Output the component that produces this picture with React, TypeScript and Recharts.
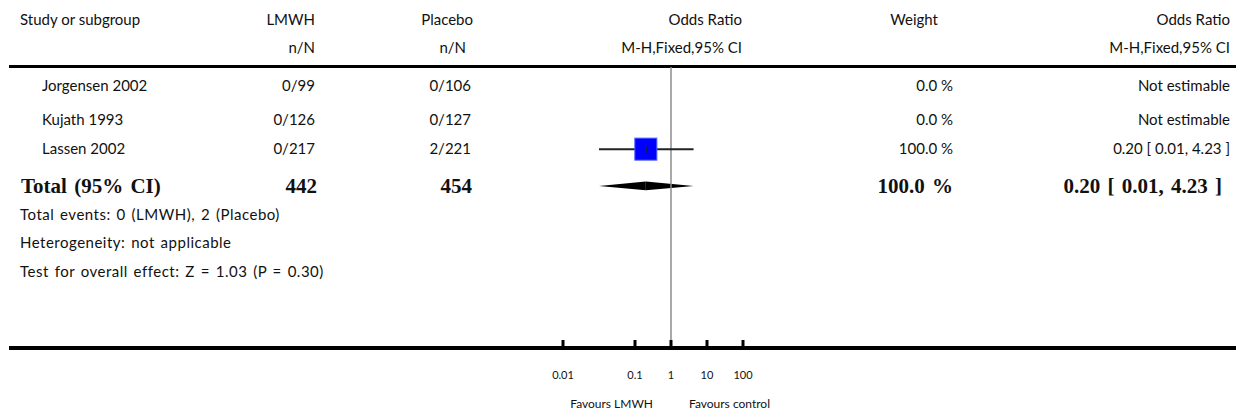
import React from "react"
import {
  ComposedChart,
  Scatter,
  XAxis,
  YAxis,
  ReferenceLine,
  ReferenceArea,
} from "recharts"

// Forest plot: LMWH vs placebo, odds ratio (M-H, fixed, 95% CI)

const studies = ["Jorgensen 2002", "Kujath 1993", "Lassen 2002"]
const lmwhEvents = ["0/99", "0/126", "0/217"]
const placeboEvents = ["0/106", "0/127", "2/221"]
const weights = [0, 0, 100]
const weightLabels = ["0.0 %", "0.0 %", "100.0 %"]
const oddsRatio: (number | null)[] = [null, null, 0.2]
const ciLow: (number | null)[] = [null, null, 0.01]
const ciHigh: (number | null)[] = [null, null, 4.23]
const orLabels = ["Not estimable", "Not estimable", "0.20 [ 0.01, 4.23 ]"]

const totalLabel = "Total (95% CI)"
const totalLmwh = "442"
const totalPlacebo = "454"
const totalWeight = "100.0 %"
const totalOr = 0.2
const totalLow = 0.01
const totalHigh = 4.23
const totalOrLabel = "0.20 [ 0.01, 4.23 ]"

const notes = [
  "Total events: 0 (LMWH), 2 (Placebo)",
  "Heterogeneity: not applicable",
  "Test for overall effect: Z = 1.03 (P = 0.30)",
]

const tickValues = [0.001, 0.1, 1, 10, 100]
const tickLabels = ["0.01", "0.1", "1", "10", "100"]
const favoursLeft = "Favours LMWH"
const favoursRight = "Favours control"

// layout (row slots on the y axis, column x positions in px)
const SLOT_HEAD1 = 0.6
const SLOT_HEAD2 = 1.45
const SLOT_RULE = 2.02
const SLOT_STUDY = [2.6, 3.62, 4.5]
const SLOT_TOTAL = 5.61
const SLOT_NOTES = [6.49, 7.33, 8.21]
const SLOT_END = 10.5

const SANS = "Lato, 'Open Sans', sans-serif"
const SERIF = "'Liberation Serif', 'DejaVu Serif', serif"

type Cell = { text: string; x: number; anchor: "start" | "end"; kind?: "bold" | "note" }

const rows: { slot: number; cells: Cell[] }[] = [
  {
    slot: SLOT_HEAD1,
    cells: [
      { text: "Study or subgroup", x: 20, anchor: "start" },
      { text: "LMWH", x: 315, anchor: "end" },
      { text: "Placebo", x: 473, anchor: "end" },
      { text: "Odds Ratio", x: 742, anchor: "end" },
      { text: "Weight", x: 938, anchor: "end" },
      { text: "Odds Ratio", x: 1230, anchor: "end" },
    ],
  },
  {
    slot: SLOT_HEAD2,
    cells: [
      { text: "n/N", x: 315, anchor: "end" },
      { text: "n/N", x: 466, anchor: "end" },
      { text: "M-H,Fixed,95% CI", x: 742, anchor: "end" },
      { text: "M-H,Fixed,95% CI", x: 1230, anchor: "end" },
    ],
  },
  ...studies.map((s, i) => ({
    slot: SLOT_STUDY[i],
    cells: [
      { text: s, x: 42, anchor: "start" as const },
      { text: lmwhEvents[i], x: 315, anchor: "end" as const },
      { text: placeboEvents[i], x: 471, anchor: "end" as const },
      { text: weightLabels[i], x: 953, anchor: "end" as const },
      { text: orLabels[i], x: 1230, anchor: "end" as const },
    ],
  })),
  {
    slot: SLOT_TOTAL,
    cells: [
      { text: totalLabel, x: 21, anchor: "start", kind: "bold" },
      { text: totalLmwh, x: 317, anchor: "end", kind: "bold" },
      { text: totalPlacebo, x: 472, anchor: "end", kind: "bold" },
      { text: totalWeight, x: 953, anchor: "end", kind: "bold" },
      { text: totalOrLabel, x: 1222, anchor: "end", kind: "bold" },
    ],
  },
  ...notes.map((n, i) => ({
    slot: SLOT_NOTES[i],
    cells: [{ text: n, x: 20, anchor: "start" as const, kind: "note" as const }],
  })),
]

const scatterData = studies
  .map((s, i) => ({ study: s, or: oddsRatio[i], row: SLOT_STUDY[i], weight: weights[i] }))
  .filter((d) => d.or != null)

const cellStyle = (kind?: string): React.CSSProperties => {
  if (kind === "bold") return { fontFamily: SERIF, fontSize: 21, fontWeight: 700, wordSpacing: 2 }
  if (kind === "note") return { fontFamily: SANS, fontSize: 15, letterSpacing: 0.5, wordSpacing: 1.5 }
  return { fontFamily: SANS, fontSize: 15 }
}

function RowTick(props: any) {
  const { y, payload } = props
  const row = rows.find((r) => r.slot === payload.value)
  if (!row) return null
  return (
    <g>
      {row.cells.map((c, k) => (
        <text key={k} x={c.x} y={y} dy="0.35em" textAnchor={c.anchor} fill="#111" style={cellStyle(c.kind)}>
          {c.text}
        </text>
      ))}
    </g>
  )
}

function AxisTick(props: any) {
  const { x, y, payload, index } = props
  return (
    <g>
      <line x1={x} x2={x} y1={y - 8} y2={y} stroke="#000" strokeWidth={3} />
      <text x={x} y={y + 31} textAnchor="middle" fill="#111" style={{ fontFamily: SANS, fontSize: 11 }}>
        {tickLabels[index]}
      </text>
      {payload.value === 1 && (
        <>
          <text x={x - 18} y={y + 60} textAnchor="end" fill="#111" style={{ fontFamily: SANS, fontSize: 12 }}>
            {favoursLeft}
          </text>
          <text x={x + 18} y={y + 60} textAnchor="start" fill="#111" style={{ fontFamily: SANS, fontSize: 12 }}>
            {favoursRight}
          </text>
        </>
      )}
    </g>
  )
}

function StudyBox(props: any) {
  const { cx, cy, payload } = props
  if (cx == null || cy == null) return null
  const s = 22 * Math.sqrt(payload.weight / 100)
  return (
    <g>
      <rect x={cx - s / 2} y={cy - s / 2} width={s} height={s} fill="#0000ff" stroke="#4a5cff" strokeWidth={1} />
      <line x1={cx} x2={cx} y1={cy - 4} y2={cy + 4} stroke="#222" strokeWidth={1.5} />
    </g>
  )
}

const LeftHalf = (p: any) => (
  <polygon
    points={`${p.x},${p.y + p.height / 2} ${p.x + p.width},${p.y} ${p.x + p.width},${p.y + p.height}`}
    fill="#000"
  />
)
const RightHalf = (p: any) => (
  <polygon
    points={`${p.x},${p.y} ${p.x + p.width},${p.y + p.height / 2} ${p.x},${p.y + p.height}`}
    fill="#000"
  />
)

export default function App() {
  return (
    <div style={{ position: "absolute", left: 0, top: 0, width: 1237, height: 414, background: "#fff" }}>
      <div style={{ position: "absolute", left: 9, top: 65, width: 1227, height: 3, background: "#000" }} />
      <div style={{ position: "absolute", left: 9, top: 346, width: 1227, height: 4, background: "#000" }} />
      <div style={{ position: "absolute", left: 0, top: 0 }}>
        <ComposedChart width={1237} height={414} margin={{ top: 0, right: 458, bottom: 0, left: 0 }}>
          <XAxis
            type="number"
            dataKey="or"
            scale="log"
            domain={[0.001, 1000]}
            allowDataOverflow
            ticks={tickValues}
            tick={<AxisTick />}
            tickSize={0}
            tickMargin={0}
            axisLine={false}
            tickLine={false}
            height={66}
            interval={0}
          />
          <YAxis
            type="number"
            dataKey="row"
            domain={[0, SLOT_END]}
            reversed
            allowDataOverflow
            ticks={rows.map((r) => r.slot)}
            tick={<RowTick />}
            axisLine={false}
            tickLine={false}
            width={563}
            interval={0}
          />
          <ReferenceLine
            segment={[
              { x: 1, y: SLOT_RULE },
              { x: 1, y: SLOT_END },
            ]}
            stroke="#8c8c8c"
            strokeWidth={1.5}
            ifOverflow="visible"
          />
          {studies.map((s, i) =>
            ciLow[i] != null && ciHigh[i] != null ? (
              <ReferenceLine
                key={s}
                segment={[
                  { x: ciLow[i] as number, y: SLOT_STUDY[i] },
                  { x: ciHigh[i] as number, y: SLOT_STUDY[i] },
                ]}
                stroke="#222"
                strokeWidth={2}
              />
            ) : null
          )}
          <ReferenceArea x1={totalLow} x2={totalOr} y1={SLOT_TOTAL - 0.13} y2={SLOT_TOTAL + 0.13} shape={LeftHalf} />
          <ReferenceArea x1={totalOr} x2={totalHigh} y1={SLOT_TOTAL - 0.13} y2={SLOT_TOTAL + 0.13} shape={RightHalf} />
          <Scatter data={scatterData} dataKey="row" shape={<StudyBox />} isAnimationActive={false} />
        </ComposedChart>
      </div>
    </div>
  )
}
